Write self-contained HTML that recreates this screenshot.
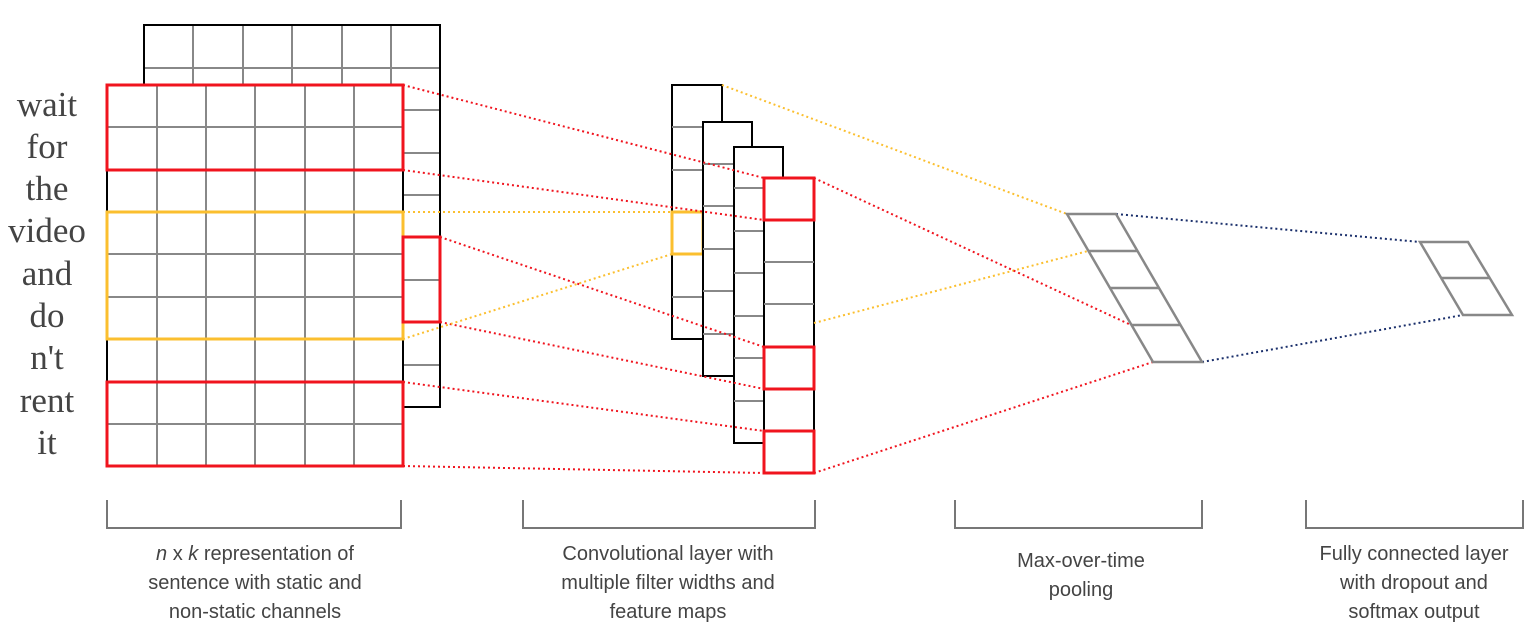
<!DOCTYPE html>
<html><head><meta charset="utf-8"><style>
html,body{margin:0;padding:0;background:#fff;}
svg{display:block;}
</style></head><body>
<svg width="1540" height="634" viewBox="0 0 1540 634" xmlns="http://www.w3.org/2000/svg">
<g font-family="Liberation Serif, serif" font-size="35" fill="#444" text-anchor="middle">
<text x="47" y="116">wait</text>
<text x="47" y="158">for</text>
<text x="47" y="200">the</text>
<text x="47" y="242">video</text>
<text x="47" y="285">and</text>
<text x="47" y="327">do</text>
<text x="47" y="369">n't</text>
<text x="47" y="412">rent</text>
<text x="47" y="454">it</text>
</g>
<g fill="none">
<rect x="144" y="25" width="296" height="382" fill="#fff" stroke="#000" stroke-width="2"/>
<g stroke="#888" stroke-width="2">
<line x1="193" y1="25" x2="193" y2="85"/><line x1="243" y1="25" x2="243" y2="85"/><line x1="292" y1="25" x2="292" y2="85"/><line x1="342" y1="25" x2="342" y2="85"/><line x1="391" y1="25" x2="391" y2="85"/>
<line x1="144" y1="68" x2="440" y2="68"/><line x1="403" y1="110" x2="440" y2="110"/><line x1="403" y1="153" x2="440" y2="153"/><line x1="403" y1="195" x2="440" y2="195"/><line x1="403" y1="280" x2="440" y2="280"/><line x1="403" y1="365" x2="440" y2="365"/>
</g>
<rect x="144" y="25" width="296" height="382" stroke="#000" stroke-width="2"/>
<rect x="107" y="85" width="296" height="381" fill="#fff" stroke="#000" stroke-width="2"/>
<g stroke="#888" stroke-width="2">
<line x1="157" y1="85" x2="157" y2="466"/><line x1="206" y1="85" x2="206" y2="466"/><line x1="255" y1="85" x2="255" y2="466"/><line x1="305" y1="85" x2="305" y2="466"/><line x1="354" y1="85" x2="354" y2="466"/>
<line x1="107" y1="127" x2="403" y2="127"/><line x1="107" y1="170" x2="403" y2="170"/><line x1="107" y1="212" x2="403" y2="212"/><line x1="107" y1="254" x2="403" y2="254"/><line x1="107" y1="297" x2="403" y2="297"/><line x1="107" y1="339" x2="403" y2="339"/><line x1="107" y1="382" x2="403" y2="382"/><line x1="107" y1="424" x2="403" y2="424"/>
</g>
<rect x="107" y="85" width="296" height="85" stroke="#f0141e" stroke-width="3"/>
<rect x="107" y="212" width="296" height="127" stroke="#fbbf2f" stroke-width="3"/>
<rect x="107" y="382" width="296" height="84" stroke="#f0141e" stroke-width="3"/>
<rect x="403" y="237" width="37" height="85" stroke="#f0141e" stroke-width="3"/>

<!-- feature maps -->
<rect x="672" y="85" width="50" height="254" fill="#fff" stroke="#000" stroke-width="2"/>
<g stroke="#888" stroke-width="2"><line x1="672" y1="127" x2="703" y2="127"/><line x1="672" y1="170" x2="703" y2="170"/><line x1="672" y1="297" x2="703" y2="297"/></g>
<rect x="672" y="212" width="31" height="42" stroke="#fbbf2f" stroke-width="3"/>
<rect x="703" y="122" width="49" height="254" fill="#fff" stroke="#000" stroke-width="2"/>
<g stroke="#888" stroke-width="2"><line x1="703" y1="164" x2="734" y2="164"/><line x1="703" y1="206" x2="734" y2="206"/><line x1="703" y1="249" x2="734" y2="249"/><line x1="703" y1="291" x2="734" y2="291"/><line x1="703" y1="334" x2="734" y2="334"/></g>
<rect x="734" y="147" width="49" height="296" fill="#fff" stroke="#000" stroke-width="2"/>
<g stroke="#888" stroke-width="2"><line x1="734" y1="188" x2="764" y2="188"/><line x1="734" y1="231" x2="764" y2="231"/><line x1="734" y1="273" x2="764" y2="273"/><line x1="734" y1="316" x2="764" y2="316"/><line x1="734" y1="358" x2="764" y2="358"/><line x1="734" y1="401" x2="764" y2="401"/></g>
<rect x="764" y="178" width="50" height="295" fill="#fff" stroke="#000" stroke-width="2"/>
<g stroke="#888" stroke-width="2"><line x1="764" y1="262" x2="814" y2="262"/><line x1="764" y1="304" x2="814" y2="304"/></g>
<rect x="764" y="178" width="50" height="42" stroke="#f0141e" stroke-width="3"/>
<rect x="764" y="347" width="50" height="42" stroke="#f0141e" stroke-width="3"/>
<rect x="764" y="431" width="50" height="42" stroke="#f0141e" stroke-width="3"/>

<!-- dotted connectors -->
<g stroke-dasharray="2,3" stroke-width="2">
<line x1="403" y1="85" x2="764" y2="178" stroke="#f0141e"/>
<line x1="403" y1="170" x2="764" y2="220" stroke="#f0141e"/>
<line x1="440" y1="237" x2="764" y2="347" stroke="#f0141e"/>
<line x1="440" y1="322" x2="764" y2="389" stroke="#f0141e"/>
<line x1="403" y1="382" x2="764" y2="431" stroke="#f0141e"/>
<line x1="403" y1="466" x2="764" y2="473" stroke="#f0141e"/>
<line x1="403" y1="212" x2="672" y2="212" stroke="#fbbf2f"/>
<line x1="403" y1="339" x2="672" y2="254" stroke="#fbbf2f"/>
<line x1="722" y1="85" x2="1067" y2="214" stroke="#fbbf2f"/>
<line x1="814" y1="323" x2="1088" y2="251" stroke="#fbbf2f"/>
<line x1="814" y1="178" x2="1131" y2="325" stroke="#f0141e"/>
<line x1="814" y1="473" x2="1153" y2="362" stroke="#f0141e"/>
<line x1="1116" y1="214" x2="1420" y2="242" stroke="#1a2f6b"/>
<line x1="1202" y1="362" x2="1463" y2="315" stroke="#1a2f6b"/>
</g>

<g stroke="#888" stroke-width="2.5">
<polygon points="1067,214 1116,214 1202,362 1153,362"/>
<line x1="1088" y1="251" x2="1138" y2="251"/>
<line x1="1110" y1="288" x2="1159" y2="288"/>
<line x1="1131" y1="325" x2="1181" y2="325"/>
<polygon points="1420,242 1468,242 1512,315 1463,315"/>
<line x1="1441" y1="278" x2="1490" y2="278"/>
</g>

<g stroke="#777" stroke-width="2">
<polyline points="107,500 107,528 401,528 401,500"/>
<polyline points="523,500 523,528 815,528 815,500"/>
<polyline points="955,500 955,528 1202,528 1202,500"/>
<polyline points="1306,500 1306,528 1523,528 1523,500"/>
</g>
</g>
<g font-family="Liberation Sans, sans-serif" font-size="20" fill="#444" text-anchor="middle">
<text x="255" y="560"><tspan font-style="italic">n</tspan> x <tspan font-style="italic">k</tspan> representation of</text>
<text x="255" y="589">sentence with static and</text>
<text x="255" y="618">non-static channels</text>
<text x="668" y="560">Convolutional layer with</text>
<text x="668" y="589">multiple filter widths and</text>
<text x="668" y="618">feature maps</text>
<text x="1081" y="567">Max-over-time</text>
<text x="1081" y="596">pooling</text>
<text x="1414" y="560">Fully connected layer</text>
<text x="1414" y="589">with dropout and</text>
<text x="1414" y="618">softmax output</text>
</g>
</svg>
</body></html>
